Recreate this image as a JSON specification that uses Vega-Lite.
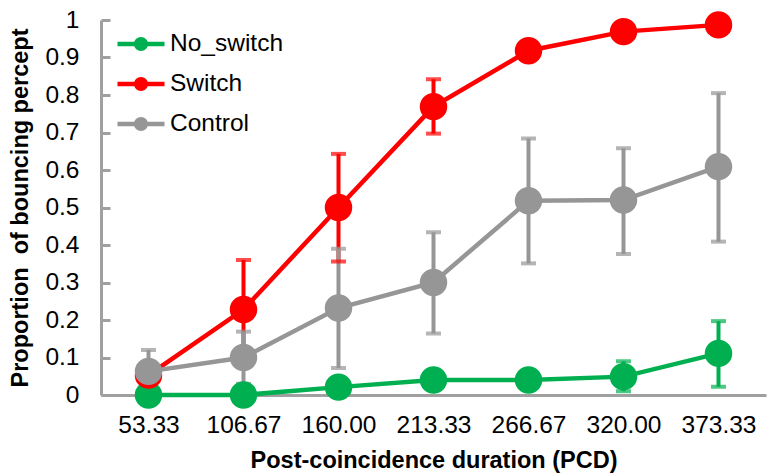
{
  "$schema": "https://vega.github.io/schema/vega-lite/v6.json",
  "width": 665,
  "height": 375,
  "autosize": {"type": "none"},
  "padding": {"left": 101, "top": 20, "right": 3, "bottom": 79},
  "background": "white",
  "config": {
    "font": "Liberation Sans",
    "view": {"stroke": null},
    "axisY": {
      "titleFontSize": 23.5,
      "titleFontWeight": "bold",
      "titleColor": "black",
      "titlePadding": 12,
      "values": [0, 0.1, 0.2, 0.3, 0.4, 0.5, 0.6, 0.7, 0.8, 0.9, 1],
      "format": "~g",
      "labelFontSize": 24.5,
      "labelColor": "black",
      "labelPadding": 31,
      "tickSize": -9,
      "tickWidth": 3,
      "tickColor": "#a0a0a0",
      "domainColor": "#a0a0a0",
      "domainWidth": 3,
      "grid": false
    },
    "legend": {
      "orient": "none",
      "legendX": 26,
      "legendY": 10,
      "padding": 0,
      "symbolType": "M-1.68,-0.16H1.68V0.16H-1.68Z M0.5,0A0.5,0.5,0,1,1,-0.5,0A0.5,0.5,0,1,1,0.5,0Z",
      "symbolSize": 784,
      "symbolStrokeWidth": 0,
      "symbolOpacity": 1,
      "labelFontSize": 24.5,
      "labelColor": "black",
      "labelOffset": 15,
      "rowPadding": 14
    }
  },
  "data": {
    "values": [
      {"pcd": "53.33", "cond": "No_switch", "p": 0.0, "lo": 0.0, "hi": 0.0},
      {"pcd": "106.67", "cond": "No_switch", "p": 0.0, "lo": 0.0, "hi": 0.0},
      {"pcd": "160.00", "cond": "No_switch", "p": 0.021, "lo": 0.021, "hi": 0.021},
      {"pcd": "213.33", "cond": "No_switch", "p": 0.04, "lo": 0.04, "hi": 0.04},
      {"pcd": "266.67", "cond": "No_switch", "p": 0.04, "lo": 0.04, "hi": 0.04},
      {"pcd": "320.00", "cond": "No_switch", "p": 0.049, "lo": 0.01, "hi": 0.09},
      {"pcd": "373.33", "cond": "No_switch", "p": 0.111, "lo": 0.022, "hi": 0.197},
      {"pcd": "53.33", "cond": "Switch", "p": 0.053, "lo": 0.03, "hi": 0.08},
      {"pcd": "106.67", "cond": "Switch", "p": 0.228, "lo": 0.1, "hi": 0.36},
      {"pcd": "160.00", "cond": "Switch", "p": 0.5, "lo": 0.356, "hi": 0.643},
      {"pcd": "213.33", "cond": "Switch", "p": 0.769, "lo": 0.697, "hi": 0.842},
      {"pcd": "266.67", "cond": "Switch", "p": 0.918, "lo": 0.918, "hi": 0.918},
      {"pcd": "320.00", "cond": "Switch", "p": 0.969, "lo": 0.969, "hi": 0.969},
      {"pcd": "373.33", "cond": "Switch", "p": 0.987, "lo": 0.987, "hi": 0.987},
      {"pcd": "53.33", "cond": "Control", "p": 0.063, "lo": 0.0, "hi": 0.12},
      {"pcd": "106.67", "cond": "Control", "p": 0.1, "lo": 0.03, "hi": 0.169},
      {"pcd": "160.00", "cond": "Control", "p": 0.232, "lo": 0.072, "hi": 0.39},
      {"pcd": "213.33", "cond": "Control", "p": 0.3, "lo": 0.164, "hi": 0.434},
      {"pcd": "266.67", "cond": "Control", "p": 0.518, "lo": 0.351, "hi": 0.684},
      {"pcd": "320.00", "cond": "Control", "p": 0.52, "lo": 0.376, "hi": 0.658},
      {"pcd": "373.33", "cond": "Control", "p": 0.609, "lo": 0.409, "hi": 0.805}
    ]
  },
  "encoding": {
    "x": {
      "field": "pcd",
      "type": "ordinal",
      "sort": null,
      "scale": {"type": "point", "padding": 0.5, "domain": ["53.33", "106.67", "160.00", "213.33", "266.67", "320.00", "373.33"]},
      "axis": {
        "title": "Post-coincidence duration (PCD)",
        "titleFontSize": 23.5,
        "titleFontWeight": "bold",
        "titleColor": "black",
        "titlePadding": 12,
        "labelFontSize": 24.5,
        "labelColor": "black",
        "labelAngle": 0,
        "labelPadding": 18,
        "ticks": false,
        "domainColor": "#a0a0a0",
        "domainWidth": 3,
        "grid": false
      }
    },
    "color": {
      "field": "cond",
      "type": "nominal",
      "title": null,
      "scale": {"domain": ["No_switch", "Switch", "Control"], "range": ["#00b050", "#ff0000", "#969696"]}
    }
  },
  "layer": [
    {
      "mark": {"type": "rule", "strokeWidth": 4},
      "encoding": {
        "y": {"field": "lo", "type": "quantitative", "title": "Proportion\u00a0 of bouncing percept", "scale": {"domain": [0, 1], "nice": false}},
        "y2": {"field": "hi"}
      }
    },
    {
      "mark": {"type": "tick", "thickness": 4, "size": 15, "orient": "horizontal"},
      "encoding": {
        "y": {"field": "lo", "type": "quantitative", "title": "Proportion\u00a0 of bouncing percept"}
      }
    },
    {
      "mark": {"type": "tick", "thickness": 4, "size": 15, "orient": "horizontal"},
      "encoding": {
        "y": {"field": "hi", "type": "quantitative", "title": "Proportion\u00a0 of bouncing percept"}
      }
    },
    {
      "mark": {"type": "line", "strokeWidth": 4.5},
      "encoding": {
        "y": {"field": "p", "type": "quantitative", "title": "Proportion\u00a0 of bouncing percept"}
      }
    },
    {
      "mark": {"type": "point", "filled": true, "size": 755, "opacity": 1},
      "encoding": {
        "y": {"field": "p", "type": "quantitative", "title": "Proportion\u00a0 of bouncing percept"}
      }
    }
  ]
}
